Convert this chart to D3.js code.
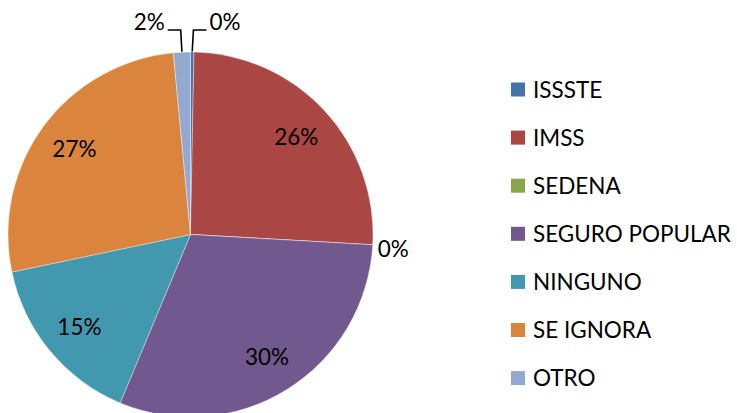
<!DOCTYPE html>
<html>
<head>
<meta charset="utf-8">
<script src="https://cdn.jsdelivr.net/npm/d3@7"></script>
<style>
  html, body { margin: 0; padding: 0; background: #fff; }
  svg { display: block; }
  text { font-family: Lato, "Open Sans", sans-serif; fill: #000; }
</style>
</head>
<body>
<svg id="chart" width="737" height="413"></svg>
<script>
// ---- data ----
const categories = ["ISSSTE", "IMSS", "SEDENA", "SEGURO POPULAR", "NINGUNO", "SE IGNORA", "OTRO"];
const values = [0.3, 25.6, 0.0, 30.4, 15.4, 26.8, 1.5];
const colors = ["#4572A7", "#AA4643", "#89A54E", "#71588F", "#4198AF", "#DB843D", "#93A9CF"];
// label placement: "in" inside slice, "top" with elbow leader above pie, "right" beside pie edge
const labelModes = ["top", "in", "right", "in", "in", "in", "top"];

const W = 737, H = 413;
const cx = 190.5, cy = 234.5, R = 182.5;

const svg = d3.select("#chart");

// fit font size so the widest legend entry spans ~198px (as in the reference)
const probe = svg.append("text").style("font-size", "24px").text("SEGURO POPULAR");
const probeW = probe.node().getComputedTextLength();
probe.remove();
const fontSize = Math.min(24, 24 * 198 / probeW);

const total = d3.sum(values);
const fmt = v => Math.round(v / total * 100) + "%";

const data = categories.map((c, i) => ({ name: c, value: values[i], color: colors[i], mode: labelModes[i] }));

const pie = d3.pie().sort(null).value(d => d.value).startAngle(0).endAngle(2 * Math.PI);
const arcs = pie(data);
const arc = d3.arc().innerRadius(0).outerRadius(R);
const labelArc = d3.arc().innerRadius(R * 0.79).outerRadius(R * 0.79);

const g = svg.append("g").attr("transform", `translate(${cx},${cy})`);

g.selectAll("path.slice")
  .data(arcs)
  .join("path")
  .attr("class", "slice")
  .attr("d", arc)
  .attr("fill", d => d.data.color)
  .attr("stroke", "#ffffff")
  .attr("stroke-opacity", 0.6)
  .attr("stroke-width", 0.6);

// inside labels
g.selectAll("text.in")
  .data(arcs.filter(d => d.data.mode === "in"))
  .join("text")
  .attr("class", "in")
  .attr("transform", d => `translate(${labelArc.centroid(d)})`)
  .attr("text-anchor", "middle")
  .attr("dy", "0.36em")
  .style("font-size", fontSize + "px")
  .text(d => fmt(d.data.value));

// top labels with elbow leader lines
const elbowY = -R - 22;
arcs.filter(d => d.data.mode === "top").forEach(d => {
  const mid = (d.startAngle + d.endAngle) / 2;
  const x0 = R * Math.sin(mid), y0 = -R * Math.cos(mid);
  const dir = Math.sin(mid) < 0 ? -1 : 1;
  const x1 = x0 + dir * 1.2;
  const x2 = x1 + dir * 13;
  g.append("path")
    .attr("d", `M${x0},${y0 - 0.5}L${x1},${elbowY}L${x2},${elbowY}`)
    .attr("fill", "none")
    .attr("stroke", "#000")
    .attr("stroke-width", 1.6);
  g.append("text")
    .attr("x", x2 + dir * 3)
    .attr("y", elbowY - 8)
    .attr("text-anchor", dir < 0 ? "end" : "start")
    .attr("dy", "0.36em")
    .style("font-size", fontSize + "px")
    .text(fmt(d.data.value));
});

// right-side labels (zero slices on the edge)
arcs.filter(d => d.data.mode === "right").forEach(d => {
  const mid = (d.startAngle + d.endAngle) / 2;
  const x0 = (R + 5) * Math.sin(mid), y0 = -(R + 5) * Math.cos(mid);
  g.append("text")
    .attr("x", x0)
    .attr("y", y0 + 4)
    .attr("text-anchor", "start")
    .attr("dy", "0.36em")
    .style("font-size", fontSize + "px")
    .text(fmt(d.data.value));
});

// legend
const legendX = 511, legendY0 = 89.5, legendStep = 48.1, box = 14;
const legendScale = d3.scalePoint().domain(categories).range([legendY0, legendY0 + legendStep * (categories.length - 1)]);
const lg = svg.append("g").attr("class", "legend");
const items = lg.selectAll("g.item")
  .data(data)
  .join("g")
  .attr("class", "item")
  .attr("transform", d => `translate(${legendX},${legendScale(d.name)})`);
items.append("rect")
  .attr("x", 0).attr("y", -box / 2)
  .attr("width", box).attr("height", box)
  .attr("fill", d => d.color);
items.append("text")
  .attr("x", 22)
  .attr("dy", "0.36em")
  .style("font-size", fontSize + "px")
  .text(d => d.name);
</script>
</body>
</html>
